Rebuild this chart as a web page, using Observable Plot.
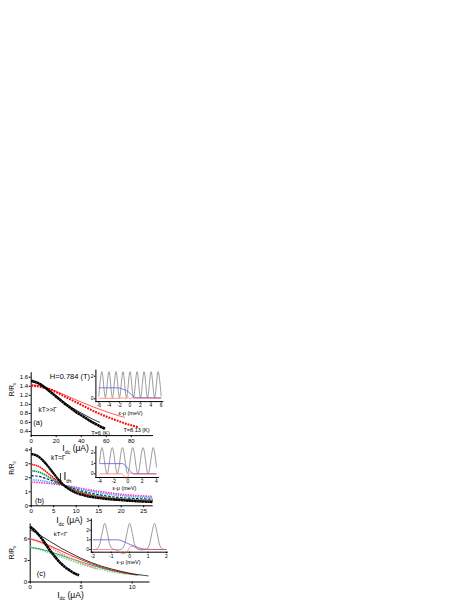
<!DOCTYPE html>
<html><head><meta charset="utf-8">
<script src="https://cdn.jsdelivr.net/npm/d3@7"></script>
<script src="https://cdn.jsdelivr.net/npm/@observablehq/plot@0.6"></script>
<style>
html,body{margin:0;padding:0;background:#fff;}
#fig{position:relative;width:471px;height:609px;overflow:hidden;background:#fff;}
#fig svg{position:absolute;left:0;top:0;}
</style></head><body><div id="fig"></div>
<script>
// ---------- Panel (a) data ----------
const aBlackSqX = [0,4,8,12,16,20,24,28,32,36,40,44,48,52,56,59];
const aBlackSqY = [1.52,1.49,1.43,1.35,1.26,1.17,1.08,0.99,0.91,0.83,0.76,0.69,0.62,0.56,0.5,0.46];
const aBlackLnX = [0,8,16,24,32,40,48,55];
const aBlackLnY = [1.5,1.43,1.28,1.1,0.94,0.81,0.69,0.6];
const aRedSqX = [0,5,10,15,20,25,30,35,40,45,50,55,60,65,70,75,80,86];
const aRedSqY = [1.41,1.4,1.37,1.33,1.27,1.2,1.13,1.06,0.99,0.92,0.85,0.79,0.73,0.68,0.63,0.58,0.54,0.49];
const aRedLnX = [0,10,20,30,40,50,60,70,75];
const aRedLnY = [1.44,1.39,1.29,1.17,1.05,0.94,0.84,0.75,0.71];
const aXTicks = [0,20,40,60,80];
const aYTicks = [0.4,0.6,0.8,1.0,1.2,1.4,1.6];

// ---------- Panel (b) data ----------
const bX = [0,1,2,3,4,5,6,7,8,9,10,12,14,17,20,23,27];
const bBlack   = [3.7,3.62,3.42,3.1,2.72,2.3,1.9,1.55,1.28,1.07,0.92,0.72,0.6,0.48,0.4,0.33,0.27];
const bRed     = [2.95,2.9,2.75,2.52,2.25,1.98,1.72,1.5,1.31,1.15,1.02,0.82,0.68,0.54,0.45,0.38,0.32];
const bGreen   = [2.5,2.47,2.38,2.22,2.04,1.85,1.66,1.5,1.35,1.21,1.09,0.89,0.75,0.6,0.5,0.44,0.39];
const bBlue    = [2.15,2.13,2.08,1.98,1.87,1.75,1.62,1.5,1.38,1.27,1.17,0.99,0.85,0.69,0.58,0.52,0.47];
const bCyan    = [1.85,1.84,1.81,1.76,1.7,1.63,1.56,1.49,1.41,1.33,1.26,1.11,0.98,0.83,0.72,0.64,0.57];
const bMagenta = [1.68,1.68,1.66,1.63,1.6,1.56,1.52,1.47,1.42,1.37,1.31,1.19,1.08,0.94,0.82,0.74,0.66];
const bXTicks = [0,5,10,15,20,25];
const bYTicks = [0,1,2,3,4];

// ---------- Panel (c) data ----------
const cBlackSqX = [0,0.5,1,1.5,2,2.5,3,3.5,4,4.5,4.8];
const cBlackSqY = [7.7,7.1,6.3,5.3,4.3,3.4,2.6,2.0,1.5,1.1,0.95];
const cBlackLnX = [0,1,2,3,4,5,6,7,8,9,10,11,11.6];
const cBlackLnY = [7.3,6.5,5.6,4.75,4.0,3.3,2.7,2.2,1.8,1.45,1.15,0.95,0.85];
const cRedLnX = [0,1,2,3,4,5,6,7,8,9,10,10.5];
const cRedLnY = [6.0,5.6,5.0,4.35,3.7,3.1,2.55,2.05,1.65,1.35,1.1,1.0];
const cPinkSqX = [0,1,2,3,4,5,6,6.5];
const cPinkSqY = [6.1,5.5,4.8,4.0,3.3,2.7,2.1,1.8];
const cGreenLnX = [0,1,2,3,4,5,6,7,8,9,10,10.6];
const cGreenLnY = [4.8,4.6,4.2,3.75,3.25,2.8,2.35,1.95,1.6,1.3,1.05,0.95];
const cLtGreenSqX = [0,1,2,3,4,5,6,7,8,9,9.5];
const cLtGreenSqY = [4.9,4.5,4.0,3.5,3.0,2.5,2.1,1.75,1.45,1.2,1.1];
const cXTicks = [0,5,10];
const cYTicks = [0,3,6];

// ---------- Inset (a) data ----------
const iaGrayX = [-6,-5.4,-4.725,-4.05,-3.375,-2.7,-2.025,-1.35,-0.675,0,0.675,1.35,2.025,2.7,3.375,4.05,4.725,5.4,6];
const iaGrayY = [0.2,2.4,0.1,2.4,0.1,2.4,0.1,2.4,0.1,2.4,0.1,2.4,0.1,2.4,0.1,2.4,0.1,2.4,0.2];
const iaBlueX = [-6,-2.4,-2,-1.5,-1,-0.5,0,0.4,0.8,1.2,6];
const iaBlueY = [0.97,0.97,0.95,0.88,0.8,0.68,0.5,0.3,0.15,0.1,0.08];
const iaRedX = [-6,-2,-1.2,-0.8,-0.4,0,0.4,0.8,1.2,6];
const iaRedY = [0.04,0.04,0.08,0.0,0.12,-0.02,0.1,0.03,0.05,0.04];
const iaXTicks = [-6,-4,-2,0,2,4,6];
const iaYTicks = [0,2];

// ---------- Inset (b) data ----------
const ibGrayX = [-4,-3.65,-2.93,-2.21,-1.49,-0.77,-0.05,0.67,1.39,2.11,2.83,3.55,4];
const ibGrayY = [1.0,2.5,0.02,2.5,0.02,2.5,0.02,2.5,0.02,2.5,0.02,2.5,0.6];
const ibBlueX = [-4,-0.75,-0.4,0,0.4,0.8,4];
const ibBlueY = [0.97,0.97,0.8,0.5,0.2,0.0,0.0];
const ibRedX = [-4,-0.9,-0.6,-0.35,-0.1,0.15,0.35,0.6,0.8,4];
const ibRedY = [0,0,-0.15,-0.45,-0.35,0,0.1,0.02,0,0];
const ibXTicks = [-4,-2,0,2,4];
const ibYTicks = [0,1,2];

// ---------- Inset (c) data ----------
const icGrayX = [-2,-1.8,-1.65,-1.5,-1.35,-1.2,-1.05,-0.9,-0.45,-0.3,-0.15,0,0.15,0.3,0.45,0.9,1.05,1.2,1.35,1.5,1.65,1.8,2];
const icGrayY = [0,0.03,0.37,1.64,2.7,1.64,0.37,0.03,0.03,0.37,1.64,2.7,1.64,0.37,0.03,0.03,0.37,1.64,2.7,1.64,0.37,0.03,0];
const icBlueX = [-2,-0.65,0.05,0.95,2];
const icBlueY = [1.0,1.0,0.5,0.0,0.0];
const icRedX = [-2,-0.85,-0.6,-0.4,-0.2,0,0.08,0.3,0.5,2];
const icRedY = [0,0,-0.15,-0.45,-0.35,0.2,0.35,0.2,0.02,0];
const icXTicks = [-2,-1,0,1,2];
const icYTicks = [0,1,2,3];

// ---------- helpers ----------
const W = 471, H = 609;
const FONT = "'Liberation Sans', Arial, Helvetica, sans-serif";
const fig = document.getElementById("fig");
const zip = (xs, ys) => xs.map((x, i) => ({x, y: ys[i]}));
const intFmt = d => String(d);

function subs(svg) {
  svg.querySelectorAll("text").forEach(el => {
    const t = el.textContent;
    if (!t.includes("_{")) return;
    const fs = parseFloat(getComputedStyle(el).fontSize) || 8;
    const sh = fs * 0.3;
    while (el.firstChild) el.removeChild(el.firstChild);
    let down = false;
    t.split(/(_\{[^}]*\})/).forEach(part => {
      if (!part) return;
      const ts = document.createElementNS("http://www.w3.org/2000/svg", "tspan");
      const m = part.match(/^_\{(.*)\}$/);
      if (m) {
        ts.textContent = m[1];
        ts.setAttribute("font-size", (fs * 0.62).toFixed(2));
        ts.setAttribute("dy", sh.toFixed(2));
        down = true;
      } else {
        ts.textContent = part;
        if (down) { ts.setAttribute("dy", (-sh).toFixed(2)); down = false; }
      }
      el.appendChild(ts);
    });
  });
}

function render(box, x, y, marks, fs) {
  const [l, t, r, b] = box;
  const svg = Plot.plot({
    width: W, height: H,
    marginLeft: l, marginTop: t, marginRight: W - r, marginBottom: H - b,
    style: `background:transparent;font-family:${FONT};font-size:${fs}px;color:#000;`,
    x, y, marks
  });
  fig.appendChild(svg);
  subs(svg);
}

const label = (text, x, y, o = {}) =>
  Plot.text([text], {x, y, text: d => d, fill: "#000", fontSize: 7, ...o});

const ln = (xs, ys, o) => Plot.line(zip(xs, ys), {x: "x", y: "y", curve: "catmull-rom", strokeLinecap: "butt", ...o});

// ---------- Panel (a) ----------
render([30.7, 372.2, 152, 435.1],
  {domain: [0, 97], ticks: aXTicks, tickFormat: intFmt, tickSize: 2, tickPadding: 1, line: true, label: null},
  {domain: [0.31, 1.7], ticks: aYTicks, tickFormat: d3.format(".1f"), tickSize: 2, tickPadding: 1, line: true, label: null},
  [
    ln(aRedLnX, aRedLnY, {stroke: "#ff2a2a", strokeWidth: 0.8}),
    ln(aRedSqX, aRedSqY, {stroke: "#ff0000", strokeWidth: 2.1, strokeDasharray: "1.8,1.1"}),
    ln(aBlackLnX, aBlackLnY, {stroke: "#000", strokeWidth: 0.8}),
    ln(aBlackSqX, aBlackSqY, {stroke: "#000", strokeWidth: 2.6, strokeDasharray: "2.6,0.25"}),
    label("H=0.784 (T)", 31, 1.606, {fontSize: 7.5}),
    label("kT>>Γ", 5.8, 0.887, {fontSize: 6.5, textAnchor: "start"}),
    label("(a)", 5.4, 0.606, {fontSize: 7.5}),
    label("T=6 (K)", 48, 0.371, {fontSize: 5.5, textAnchor: "start"}),
    label("T=8.13 (K)", 73.8, 0.433, {fontSize: 5.5, textAnchor: "start"}),
    label("I_{dc} (μA)", 35.5, 0.03, {fontSize: 8.5}),
    label("R/R_{0}", 0, 1.33, {fontSize: 6.5, rotate: -90, dx: -19.7})
  ], 6);

// ---------- Panel (b) ----------
render([30.7, 447.2, 151.7, 505.3],
  {domain: [0, 26.9], ticks: bXTicks, tickFormat: intFmt, tickSize: 2, tickPadding: 1, line: true, label: null},
  {domain: [0, 4.15], ticks: bYTicks, tickFormat: intFmt, tickSize: 2, tickPadding: 1, line: true, label: null},
  [
    ln(bX, bMagenta, {stroke: "#ff33cc", strokeWidth: 1.7, strokeDasharray: "1.5,1"}),
    ln(bX, bCyan, {stroke: "#22aaee", strokeWidth: 1.5, strokeDasharray: "1.2,1"}),
    ln(bX, bBlue, {stroke: "#101090", strokeWidth: 1.2, strokeDasharray: "2.5,1.5"}),
    ln(bX, bGreen, {stroke: "#00a040", strokeWidth: 1.6, strokeDasharray: "1.6,0.6"}),
    ln(bX, bRed, {stroke: "#ff0000", strokeWidth: 1.6, strokeDasharray: "1.6,0.6"}),
    ln(bX, bBlack, {stroke: "#000", strokeWidth: 2.3, strokeDasharray: "2.4,0.25"}),
    label("kT=Γ", 4.4, 3.43, {fontSize: 6.5, textAnchor: "start"}),
    Plot.arrow([0], {x1: 6.5, x2: 6.5, y1: 2.31, y2: 1.69, stroke: "#000", strokeWidth: 0.8, headLength: 3}),
    label("I_{th}", 7.2, 2.09, {fontSize: 10, textAnchor: "start"}),
    label("(b)", 1.85, 0.34, {fontSize: 7.5}),
    label("I_{dc} (μA)", 8.5, -1.05, {fontSize: 8.5}),
    label("R/R_{0}", 0, 2.7, {fontSize: 6.5, rotate: -90, dx: -19})
  ], 6);

// ---------- Panel (c) ----------
render([29.7, 523.4, 148.5, 581.5],
  {domain: [0, 11.65], ticks: cXTicks, tickFormat: intFmt, tickSize: 2, tickPadding: 1, line: true, label: null},
  {domain: [0, 8.1], ticks: cYTicks, tickFormat: intFmt, tickSize: 2, tickPadding: 1, line: true, label: null},
  [
    ln(cLtGreenSqX, cLtGreenSqY, {stroke: "#80d8a0", strokeWidth: 1.7, strokeDasharray: "1.5,1"}),
    ln(cGreenLnX, cGreenLnY, {stroke: "#00a040", strokeWidth: 0.9}),
    ln(cPinkSqX, cPinkSqY, {stroke: "#ff9090", strokeWidth: 1.8, strokeDasharray: "1.5,1"}),
    ln(cRedLnX, cRedLnY, {stroke: "#ff2020", strokeWidth: 1.0}),
    ln(cBlackLnX, cBlackLnY, {stroke: "#000", strokeWidth: 0.8}),
    ln(cBlackSqX, cBlackSqY, {stroke: "#000", strokeWidth: 2.6, strokeDasharray: "2.6,0.25"}),
    label("kT<Γ", 2.31, 6.62, {fontSize: 6, textAnchor: "start"}),
    label("(c)", 1.06, 1.21, {fontSize: 7.5}),
    label("I_{dc} (μA)", 3.95, -1.8, {fontSize: 8.5}),
    label("R/R_{0}", 0, 4.1, {fontSize: 6.5, rotate: -90, dx: -18.7})
  ], 6);

// ---------- Insets ----------
function inset(box, xd, yd, xt, yt, gray, blue, red, lab) {
  render(box,
    {domain: xd, ticks: xt, tickFormat: intFmt, tickSize: 1.5, tickPadding: 0.8, line: true, label: null},
    {domain: yd, ticks: yt, tickFormat: intFmt, tickSize: 1.5, tickPadding: 0.8, line: true, label: null},
    [
      ln(gray[0], gray[1], {stroke: "#808080", strokeWidth: 0.8}),
      ln(blue[0], blue[1], {stroke: "#5a5ae6", strokeWidth: 0.9, curve: "monotone-x", strokeOpacity: 0.9}),
      ln(red[0], red[1], {stroke: "#ff5050", strokeWidth: 0.9, curve: "monotone-x", strokeOpacity: 0.7}),
      label("ε-μ (meV)", lab[0], lab[1], {fontSize: 5.5})
    ], 5);
}
inset([95.4, 369.5, 162.3, 401.1], [-6.55, 6.3], [-0.25, 2.55], iaXTicks, iaYTicks,
  [iaGrayX, iaGrayY], [iaBlueX, iaBlueY], [iaRedX, iaRedY], [0.1, -1.26]);
inset([95.4, 446, 158.1, 477], [-4.5, 4.3], [-0.35, 2.6], ibXTicks, ibYTicks,
  [ibGrayX, ibGrayY], [ibBlueX, ibBlueY], [ibRedX, ibRedY], [-0.5, -1.33]);
inset([90.8, 518.5, 166.9, 551.7], [-2.08, 2.05], [-0.28, 3.15], icXTicks, icYTicks,
  [icGrayX, icGrayY], [icBlueX, icBlueY], [icRedX, icRedY], [-0.06, -1.34]);
</script></body></html>
